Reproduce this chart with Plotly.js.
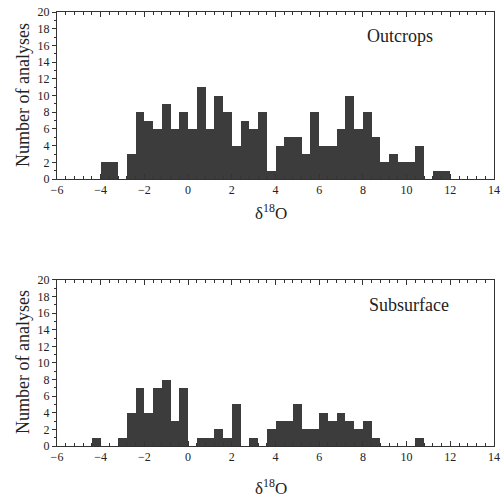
<!DOCTYPE html>
<html>
<head>
<meta charset="utf-8">
<script src="https://cdn.plot.ly/plotly-3.0.1.min.js"></script>
<style>html,body{margin:0;padding:0;background:#fff}#chart{width:501px;height:499px}</style>
</head>
<body>
<div id="chart"></div>
<script>
// Bin lower edges (width 0.4) and counts
const binWidth = 0.4;
const outcropStarts = [-4.0,-3.6,-3.2,-2.8,-2.4,-2.0,-1.6,-1.2,-0.8,-0.4,0.0,0.4,0.8,1.2,1.6,2.0,2.4,2.8,3.2,3.6,4.0,4.4,4.8,5.2,5.6,6.0,6.4,6.8,7.2,7.6,8.0,8.4,8.8,9.2,9.6,10.0,10.4,10.8,11.2,11.6];
const outcropCounts = [2,2,0,3,8,7,6,9,6,8,6,11,6,10,8,4,7,6,8,1,4,5,5,3,8,4,4,6,10,6,8,5,2,3,2,2,4,0,1,1];
const subsurfaceStarts = [-4.4,-4.0,-3.6,-3.2,-2.8,-2.4,-2.0,-1.6,-1.2,-0.8,-0.4,0.0,0.4,0.8,1.2,1.6,2.0,2.4,2.8,3.2,3.6,4.0,4.4,4.8,5.2,5.6,6.0,6.4,6.8,7.2,7.6,8.0,8.4,8.8,9.2,9.6,10.0,10.4];
const subsurfaceCounts = [1,0,0,1,4,7,4,7,8,3,7,0,1,1,2,1,5,0,1,0,2,3,3,5,2,2,4,3,4,3,2,3,1,0,0,0,0,1];
const xTickVals = [-6,-4,-2,0,2,4,6,8,10,12,14];
const yTickVals = [0,2,4,6,8,10,12,14,16,18,20];
const panelLabels = ["Outcrops","Subsurface"];

const barColor = "#3c3c3c";
const centers = arr => arr.map(s => s + binWidth/2);

const traces = [
  {type:"bar", x:centers(outcropStarts), y:outcropCounts, width:binWidth, xaxis:"x", yaxis:"y",
   marker:{color:barColor, line:{width:0}}, hoverinfo:"x+y"},
  {type:"bar", x:centers(subsurfaceStarts), y:subsurfaceCounts, width:binWidth, xaxis:"x2", yaxis:"y2",
   marker:{color:barColor, line:{width:0}}, hoverinfo:"x+y"}
];

const font = {family:"Liberation Serif, DejaVu Serif, serif", color:"#222"};
function xAx(anchor){
  return {range:[-6,14], anchor:anchor, tickvals:xTickVals, ticks:"inside", ticklen:5, tickwidth:1,
    tickcolor:"#333", showline:true, linecolor:"#333", linewidth:1, mirror:"ticks", showgrid:false,
    zeroline:false, tickfont:{...font, size:12},
    minor:{dtick:0.4, tick0:0, ticks:"inside", ticklen:3, tickcolor:"#333", showgrid:false}};
}
function yAx(anchor, domain){
  return {range:[0,20], anchor:anchor, domain:domain, tickvals:yTickVals, ticks:"outside", ticklen:4,
    tickwidth:1, tickcolor:"#333", showline:true, linecolor:"#333", linewidth:1, mirror:true,
    showgrid:false, zeroline:false, tickfont:{...font, size:12},
    minor:{dtick:1, ticks:"outside", ticklen:2, tickcolor:"#333", showgrid:false}};
}
function yRight(over, anchor, domain){
  return {range:[0,20], overlaying:over, anchor:anchor, side:"right", domain:domain, tickvals:yTickVals,
    ticks:"inside", ticklen:4, tickcolor:"#333", showticklabels:false, showline:false, showgrid:false,
    zeroline:false, minor:{dtick:1, ticks:"inside", ticklen:2, tickcolor:"#333", showgrid:false}};
}

const layout = {
  width:501, height:499,
  margin:{l:57, r:7, t:12, b:53},
  paper_bgcolor:"#fff", plot_bgcolor:"#fff",
  showlegend:false, bargap:0,
  font:font,
  xaxis: xAx("y"),
  yaxis: yAx("x", [0.615, 1]),
  xaxis2: xAx("y2"),
  yaxis2: yAx("x2", [0, 0.3825]),
  yaxis3: yRight("y", "x", [0.615, 1]),
  yaxis4: yRight("y2", "x2", [0, 0.3825]),
  annotations:[
    {text:panelLabels[0], xref:"paper", yref:"paper", x:0.784, y:0.945, xanchor:"center", yanchor:"middle", showarrow:false, font:{...font, size:18}},
    {text:panelLabels[1], xref:"paper", yref:"paper", x:0.806, y:0.324, xanchor:"center", yanchor:"middle", showarrow:false, font:{...font, size:18}},
    {text:"δ<sup>18</sup>O", xref:"paper", yref:"paper", x:0.49, y:(446-212)/434, xanchor:"center", yanchor:"middle", showarrow:false, font:{...font, size:17}},
    {text:"δ<sup>18</sup>O", xref:"paper", yref:"paper", x:0.49, y:(446-487)/434, xanchor:"center", yanchor:"middle", showarrow:false, font:{...font, size:17}},
    {text:"Number of analyses", xref:"paper", yref:"paper", x:-0.078, y:(446-95)/434, textangle:-90, xanchor:"center", yanchor:"middle", showarrow:false, font:{...font, size:18}},
    {text:"Number of analyses", xref:"paper", yref:"paper", x:-0.078, y:(446-362)/434, textangle:-90, xanchor:"center", yanchor:"middle", showarrow:false, font:{...font, size:18}}
  ]
};

Plotly.newPlot("chart", traces, layout, {staticPlot:true, displayModeBar:false});
</script>
</body>
</html>
